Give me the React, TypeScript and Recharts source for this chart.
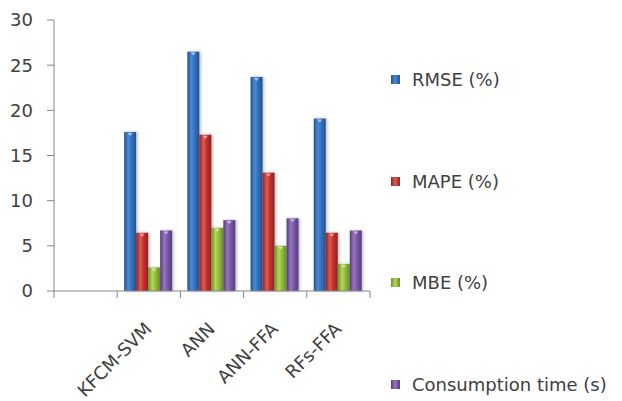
import { BarChart, Bar, XAxis, YAxis } from 'recharts';

const categories = ['', 'KFCM-SVM', 'ANN', 'ANN-FFA', 'RFs-FFA'];
const rmse = [null, 17.6, 26.5, 23.7, 19.1];
const mape = [null, 6.45, 17.3, 13.1, 6.45];
const mbe = [null, 2.6, 7.0, 5.0, 3.0];
const consumption = [null, 6.7, 7.85, 8.05, 6.7];
const yTicks = [0, 5, 10, 15, 20, 25, 30];

const series = [
  { key: 'rmse', name: 'RMSE (%)', light: '#4A8AD6', mid: '#3571BE', dark: '#24528E' },
  { key: 'mape', name: 'MAPE (%)', light: '#E05A55', mid: '#C4332F', dark: '#8E2220' },
  { key: 'mbe', name: 'MBE (%)', light: '#B2D85A', mid: '#93BC3E', dark: '#6A8E26' },
  { key: 'consumption', name: 'Consumption time (s)', light: '#9576BF', mid: '#7A58A6', dark: '#553C7A' },
];

const data = categories.map((name, i) => ({
  name,
  rmse: rmse[i],
  mape: mape[i],
  mbe: mbe[i],
  consumption: consumption[i],
}));

const FONT = '"DejaVu Sans", sans-serif';
const AXIS = '#868686';
const PLOT_LEFT = 54;
const PLOT_RIGHT = 370;
const band = (PLOT_RIGHT - PLOT_LEFT) / categories.length;

// tick marks sit on the category boundaries, labels are slanted under each group
function CategoryTick(props: any) {
  const { x, y, payload, index } = props;
  const lx = x + 4;
  const ly = y + 39;
  return (
    <g>
      <line x1={x - band / 2} y1={y} x2={x - band / 2} y2={y + 7} stroke={AXIS} />
      {index === categories.length - 1 && (
        <line x1={x + band / 2} y1={y} x2={x + band / 2} y2={y + 7} stroke={AXIS} />
      )}
      <text
        x={lx}
        y={ly}
        transform={`rotate(-45, ${lx}, ${ly})`}
        textAnchor="end"
        fontSize={18}
        fontFamily={FONT}
        fill="#404040"
      >
        {payload.value}
      </text>
    </g>
  );
}

function CylinderBar(props: any) {
  const { x, y, width, height, fill } = props;
  if (!height || height <= 0) return null;
  return (
    <g filter="url(#barShadow)">
      <rect x={x} y={y} width={width} height={height} fill={fill} />
      <path
        d={`M${x + width * 0.3},${y + 1} L${x + width * 0.7},${y + 1} L${x + width / 2},${y + 4} Z`}
        fill="rgba(255,255,255,0.55)"
      />
    </g>
  );
}

function LegendList() {
  return (
    <div style={{ position: 'absolute', left: 391, top: 69, width: 232, height: 330, fontFamily: FONT }}>
      {series.map((s, i) => (
        <div
          key={s.key}
          style={{ position: 'absolute', left: 0, top: i * 101.5, display: 'flex', alignItems: 'center', whiteSpace: 'nowrap' }}
        >
          <span
            style={{
              display: 'inline-block',
              width: 9,
              height: 9,
              marginRight: 12,
              background: `linear-gradient(to right, ${s.dark}, ${s.light} 45%, ${s.dark})`,
            }}
          />
          <span style={{ fontSize: 18, color: '#404040' }}>{s.name}</span>
        </div>
      ))}
    </div>
  );
}

export default function App() {
  return (
    <div style={{ position: 'absolute', left: 0, top: 0, width: 622, height: 401, background: '#fff' }}>
      <BarChart
        width={622}
        height={401}
        data={data}
        margin={{ top: 20, right: 252, bottom: 0, left: 0 }}
        barCategoryGap="11%"
        barGap={0}
      >
        <defs>
          {series.map((s) => (
            <linearGradient key={s.key} id={`grad-${s.key}`} x1="0" y1="0" x2="1" y2="0">
              <stop offset="0%" stopColor={s.dark} />
              <stop offset="35%" stopColor={s.light} />
              <stop offset="60%" stopColor={s.mid} />
              <stop offset="100%" stopColor={s.dark} />
            </linearGradient>
          ))}
          <filter id="barShadow" x="-30%" y="-10%" width="160%" height="120%">
            <feDropShadow dx="1.5" dy="0" stdDeviation="1.5" floodColor="#000" floodOpacity="0.25" />
          </filter>
        </defs>
        <XAxis
          dataKey="name"
          interval={0}
          height={110}
          tickSize={0}
          tickMargin={0}
          tickLine={false}
          axisLine={{ stroke: AXIS }}
          tick={<CategoryTick />}
        />
        <YAxis
          domain={[0, 30]}
          ticks={yTicks}
          width={54}
          tickSize={7}
          tickMargin={14}
          axisLine={{ stroke: AXIS }}
          tickLine={{ stroke: AXIS }}
          tick={{ fontSize: 18, fontFamily: FONT, fill: '#404040' }}
        />
        {series.map((s) => (
          <Bar
            key={s.key}
            dataKey={s.key}
            name={s.name}
            fill={`url(#grad-${s.key})`}
            shape={<CylinderBar />}
            isAnimationActive={false}
          />
        ))}
      </BarChart>
      <LegendList />
    </div>
  );
}
